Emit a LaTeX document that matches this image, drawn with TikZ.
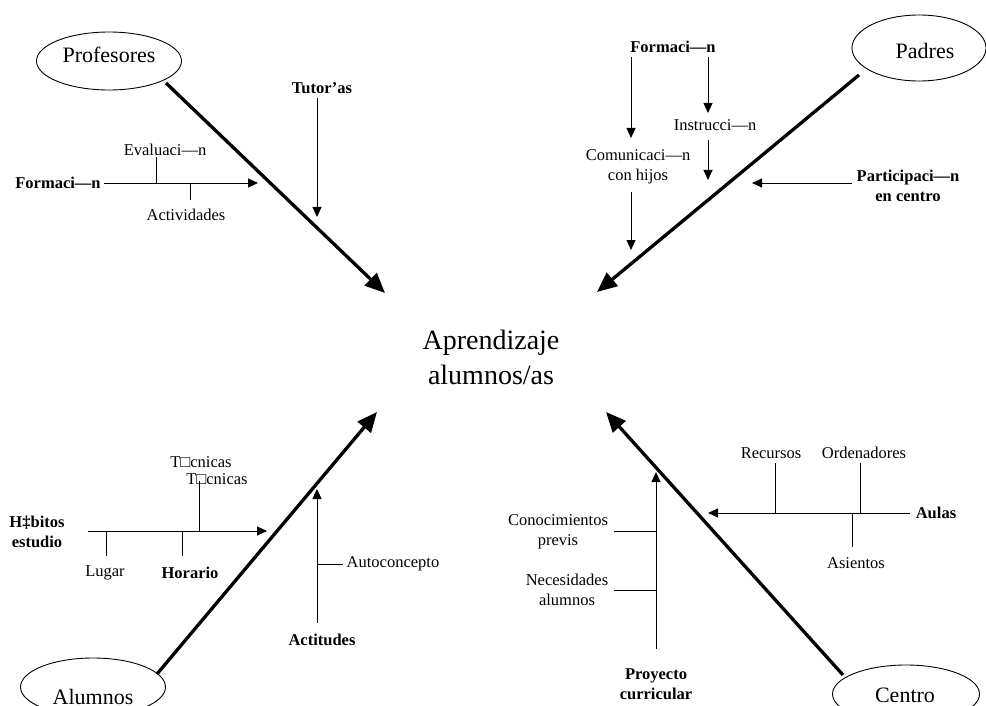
\documentclass[tikz,border=0pt]{standalone}
\usepackage{fontspec}
\setmainfont{Liberation Serif}
\usetikzlibrary{shapes.geometric,arrows.meta}
\tikzset{
  lbl/.style={font=\fontsize{16.5}{20}\selectfont, inner sep=0pt, align=center},
  blbl/.style={font=\fontsize{16.5}{20}\selectfont\bfseries, inner sep=0pt, align=center},
  biglbl/.style={font=\fontsize{22}{26}\selectfont, inner sep=0pt},
  oval/.style={ellipse, draw, line width=0.9pt, inner sep=0pt},
  mainarrow/.style={line width=3.3pt, -{Triangle[length=20pt,width=17pt]}},
  thinarrow/.style={line width=0.9pt, -{Triangle[length=10pt,width=9pt]}},
  thin/.style={line width=0.9pt},
}
\begin{document}
\begin{tikzpicture}[x=1pt,y=-1pt]
\useasboundingbox (0,0) rectangle (986,706);

% ---------- centre
\node[font=\fontsize{28}{35}\selectfont, align=center, inner sep=0pt] (apr) at (491,357) {Aprendizaje\\alumnos/as};

% ---------- Profesores
\node[oval, minimum width=145pt, minimum height=58pt] (profE) at (109,61) {};
\node[biglbl] (prof) at (109,55) {Profesores};
\coordinate (pS) at (166,83);
\coordinate (pT) at (385,293);
\draw[mainarrow] (pS) -- (pT);

\node[blbl] (tut) at (322,88) {Tutor’as};
\coordinate (tutS) at (317,98);
\coordinate (tutT) at (317,217);
\draw[thinarrow] (tutS) -- (tutT);

\node[blbl] (form1) at (58,183) {Formaci—n};
\coordinate (form1T) at (258,183);
\draw[thinarrow] ([xshift=3pt]form1.east) -- (form1T);
\node[lbl] (eval) at (165,150) {Evaluaci—n};
\coordinate (evalJ) at (156,183);
\coordinate (evalE) at (156,157);
\draw[thin] (evalJ) -- (evalE);
\node[lbl] (activ) at (186,215) {Actividades};
\coordinate (activJ) at (190,183);
\coordinate (activE) at (190,200);
\draw[thin] (activJ) -- (activE);

% ---------- Padres
\node[oval, minimum width=134pt, minimum height=66pt] (padE) at (919,48) {};
\node[biglbl] (pad) at (925,51) {Padres};
\coordinate (padS) at (859,75);
\coordinate (padT) at (597,292);
\draw[mainarrow] (padS) -- (padT);

\node[blbl] (form2) at (673,47) {Formaci—n};
\coordinate (f2a) at (631,57);
\coordinate (f2aT) at (631,138);
\draw[thinarrow] (f2a) -- (f2aT);
\coordinate (f2b) at (708,57);
\coordinate (f2bT) at (708,113);
\draw[thinarrow] (f2b) -- (f2bT);
\node[lbl] (instr) at (715,125) {Instrucci—n};
\coordinate (insS) at (708,140);
\coordinate (insT) at (708,180);
\draw[thinarrow] (insS) -- (insT);
\node[lbl] (comun) at (638,167) {Comunicaci—n\\con hijos};
\coordinate (comS) at (631,192);
\coordinate (comT) at (631,250);
\draw[thinarrow] (comS) -- (comT);
\node[blbl] (partic) at (908,186) {Participaci—n\\en centro};
\coordinate (parS) at (852,183);
\coordinate (parT) at (752,183);
\draw[thinarrow] (parS) -- (parT);

% ---------- Alumnos
\node[oval, minimum width=145pt, minimum height=58pt] (aluE) at (93,687) {};
\node[biglbl] (alu) at (93,697) {Alumnos};
\coordinate (aluS) at (157,674);
\coordinate (aluT) at (377,412);
\draw[mainarrow] (aluS) -- (aluT);

\node[blbl] (habit) at (37,532) {H‡bitos\\estudio};
\coordinate (habS) at (88,531);
\coordinate (habT) at (267,531);
\draw[thinarrow] (habS) -- (habT);
\node[lbl] (lugar) at (105,573) {Lugar};
\coordinate (lugJ) at (106,531);
\coordinate (lugE) at (106,556);
\draw[thin] (lugJ) -- (lugE);
\node[blbl] (horario) at (190,573) {Horario};
\coordinate (horJ) at (182,531);
\coordinate (horE) at (182,556);
\draw[thin] (horJ) -- (horE);
\node[lbl] (tec1) at (201,462) {T□cnicas};
\node[lbl] (tec2) at (217,479) {T□cnicas};
\coordinate (tecJ) at (199,531);
\coordinate (tecE) at (199,481);
\draw[thin] (tecJ) -- (tecE);

\node[blbl] (actit) at (322,640) {Actitudes};
\coordinate (actS) at (317,623);
\coordinate (actT) at (317,489);
\draw[thinarrow] (actS) -- (actT);
\node[lbl] (autoc) at (393,564) {Autoconcepto};
\coordinate (autJ) at (317,564);
\draw[thin] (autJ) -- ([xshift=-4pt]autoc.west);

% ---------- Centro
\node[oval, minimum width=147pt, minimum height=58pt] (cenE) at (906,694) {};
\node[biglbl] (cen) at (905,695) {Centro};
\coordinate (cenS) at (843,675);
\coordinate (cenT) at (606,412);
\draw[mainarrow] (cenS) -- (cenT);

\node[blbl] (aulas) at (936,513) {Aulas};
\coordinate (aulS) at (910,513);
\coordinate (aulT) at (708,513);
\draw[thinarrow] (aulS) -- (aulT);
\node[lbl] (recur) at (771,453) {Recursos};
\coordinate (recJ) at (775,513);
\coordinate (recE) at (775,463);
\draw[thin] (recJ) -- (recE);
\node[lbl] (orden) at (864,453) {Ordenadores};
\coordinate (ordJ) at (860,513);
\coordinate (ordE) at (860,463);
\draw[thin] (ordJ) -- (ordE);
\node[lbl] (asien) at (856,563) {Asientos};
\coordinate (asiJ) at (852,513);
\coordinate (asiE) at (852,547);
\draw[thin] (asiJ) -- (asiE);

\node[blbl] (proy) at (656,684) {Proyecto\\curricular};
\coordinate (proS) at (656,649);
\coordinate (proT) at (656,472);
\draw[thinarrow] (proS) -- (proT);
\node[lbl] (conoc) at (558,532) {Conocimientos\\previs};
\coordinate (conJ) at (656,531);
\coordinate (conE) at (614,531);
\draw[thin] (conJ) -- (conE);
\node[lbl] (neces) at (567,590) {Necesidades\\alumnos};
\coordinate (necJ) at (656,590);
\coordinate (necE) at (614,590);
\draw[thin] (necJ) -- (necE);
\end{tikzpicture}
\end{document}
